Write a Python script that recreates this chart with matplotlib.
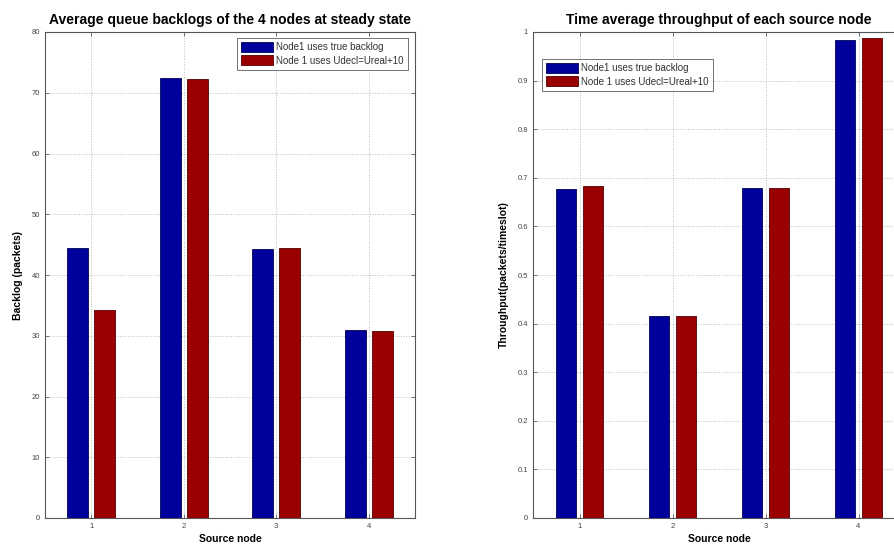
import matplotlib
matplotlib.use("Agg")
import matplotlib.pyplot as plt
import numpy as np

plt.rcParams['font.family'] = ['Liberation Sans', 'DejaVu Sans']

nodes = [1, 2, 3, 4]
series_names = ["Node1 uses true backlog", "Node 1 uses Udecl=Ureal+10"]
backlog_true = [44.4, 72.5, 44.3, 31.0]
backlog_udecl = [34.2, 72.3, 44.5, 30.8]
thr_true = [0.677, 0.415, 0.680, 0.983]
thr_udecl = [0.683, 0.415, 0.678, 0.987]

blue = '#00009A'
red = '#990000'
W, H = 894, 547
fig = plt.figure(figsize=(W/100, H/100), dpi=100)

def px(x0, y0, x1, y1):
    return [x0/W, 1 - y1/H, (x1-x0)/W, (y1-y0)/H]

ax1 = fig.add_axes(px(45, 32, 415, 518))
ax2 = fig.add_axes(px(533, 32, 905, 518))

def draw(ax, a, b, ymax, ystep, title, ylabel, legloc):
    x = np.array(nodes, dtype=float)
    ax.bar(x - 0.145, a, width=0.225, color=blue, edgecolor='#000055', linewidth=0.6, label=series_names[0], zorder=3)
    ax.bar(x + 0.145, b, width=0.225, color=red, edgecolor='#550000', linewidth=0.6, label=series_names[1], zorder=3)
    ax.set_xlim(0.5, 4.5)
    ax.set_ylim(0, ymax)
    ax.set_xticks(nodes)
    ax.set_yticks(np.round(np.arange(0, ymax + ystep/2, ystep), 2))
    if ymax == 1:
        ax.set_yticklabels(['0'] + ['%.1f' % v for v in np.arange(0.1, 0.95, 0.1)] + ['1'])
    ax.grid(True, linestyle=':', color='#bbbbbb', linewidth=0.7, zorder=0)
    ax.tick_params(direction='in', labelsize=5.5, colors='#444444', top=True, right=True, length=3, width=0.5)
    for s in ax.spines.values():
        s.set_color('#555555')
        s.set_linewidth(0.8)
    ax.set_title(title, fontsize=10, fontweight='bold', pad=6)
    ax.set_xlabel("Source node", fontsize=7.5, fontweight='bold', labelpad=3)
    ax.set_ylabel(ylabel, fontsize=7.5, fontweight='bold', labelpad=6)
    leg = ax.legend(loc=legloc, fontsize=7, frameon=True, fancybox=False, edgecolor='#333333',
                    handlelength=3.3, handleheight=1.2, borderpad=0.45, labelspacing=0.3, handletextpad=0.3)
    leg.get_frame().set_linewidth(0.6)
    for t in leg.get_texts():
        t.set_color('#333333')
    return leg

draw(ax1, backlog_true, backlog_udecl, 80, 10,
     "Average queue backlogs of the 4 nodes at steady state", "Backlog (packets)", 'upper right')
leg2 = draw(ax2, thr_true, thr_udecl, 1, 0.1,
            "Time average throughput of each source node", "Throughput(packets/timeslot)", 'upper left')
leg2.set_bbox_to_anchor((0.01, 0.955), transform=ax2.transAxes)
ax1.get_legend().set_bbox_to_anchor((0.995, 0.998), transform=ax1.transAxes)

fig.savefig("out.png", dpi=100)
